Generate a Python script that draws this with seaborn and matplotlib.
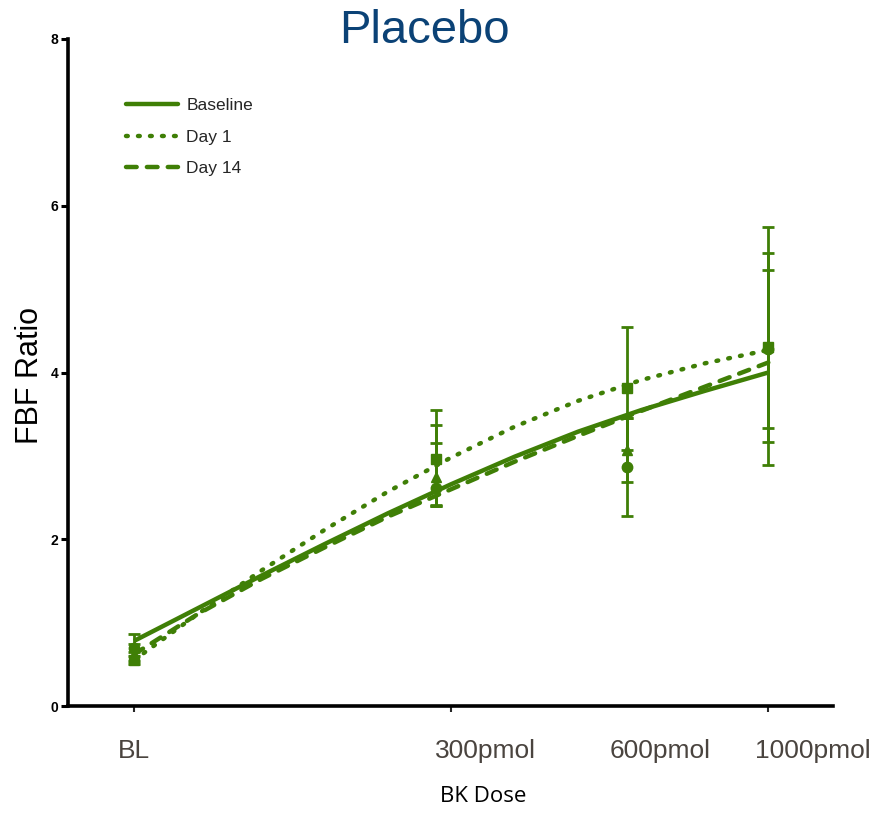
import matplotlib
matplotlib.use("Agg")
import matplotlib.pyplot as plt
import seaborn as sns
import pandas as pd
from matplotlib.lines import Line2D

# ---- data ----
dose_labels = ["BL", "300pmol", "600pmol", "1000pmol"]
dose_x = [0, 476, 778, 1000]

baseline_mean = [0.70, 2.61, 2.87, 4.28]
baseline_err_lo = [0.10, 0.20, 0.59, 0.95]
baseline_err_hi = [0.16, 0.54, 0.59, 0.95]

day1_mean = [0.55, 2.96, 3.81, 4.30]
day1_err_lo = [0.05, 0.56, 0.74, 1.13]
day1_err_hi = [0.10, 0.59, 0.74, 1.13]

day14_mean = [0.62, 2.75, 3.07, 4.31]
day14_err_lo = [0.08, 0.35, 0.38, 1.42]
day14_err_hi = [0.12, 0.62, 0.38, 1.43]

# fitted curves
curve_x = [0, 100, 200, 300, 400, 500, 600, 700, 800, 900, 1000]
baseline_curve = [0.78, 1.17, 1.56, 1.94, 2.31, 2.66, 2.99, 3.29, 3.55, 3.78, 4.00]
day1_curve = [0.55, 1.10, 1.62, 2.11, 2.57, 2.98, 3.35, 3.66, 3.91, 4.11, 4.27]
day14_curve = [0.62, 1.10, 1.52, 1.90, 2.27, 2.60, 2.93, 3.24, 3.54, 3.83, 4.12]

series = ["Baseline", "Day 1", "Day 14"]

# ---- style ----
sns.set_theme(style="ticks")
sans = ["Liberation Sans", "DejaVu Sans"]
plt.rcParams["font.family"] = sans

green = "#3f7f06"
LW = 3.2
dot_style = (0, (0.4, 2.3))
dash_style = (0, (2.4, 2.3))

fig = plt.figure(figsize=(8.78, 8.14), dpi=100)
ax = fig.add_axes([68 / 878, 1 - 706 / 814, (833 - 68) / 878, (706 - 39) / 814])

curves = pd.DataFrame({
    "x": curve_x * 3,
    "y": baseline_curve + day1_curve + day14_curve,
    "series": [s for s in series for _ in curve_x],
})
styles = {"Baseline": "-", "Day 1": dot_style, "Day 14": dash_style}
for name, ls in styles.items():
    sub = curves[curves["series"] == name]
    sns.lineplot(data=sub, x="x", y="y", ax=ax, color=green, lw=LW,
                 linestyle=ls, dash_capstyle="round", solid_capstyle="butt",
                 legend=False)

markers = {"Baseline": "o", "Day 1": "s", "Day 14": "^"}
groups = {
    "Baseline": (baseline_mean, baseline_err_lo, baseline_err_hi),
    "Day 1": (day1_mean, day1_err_lo, day1_err_hi),
    "Day 14": (day14_mean, day14_err_lo, day14_err_hi),
}
for name, (m, lo, hi) in groups.items():
    ax.errorbar(dose_x, m, yerr=[lo, hi], fmt=markers[name], color=green,
                ms=7.5, elinewidth=2, capsize=4, capthick=2, zorder=3)

ax.set_xlim(-104, 1102)
ax.set_ylim(0, 8)
ax.set_yticks([0, 2, 4, 6, 8])
ax.set_xticks([0, 500, 1000])
ax.set_xticklabels([])
for lab in ax.get_yticklabels():
    lab.set_fontweight("bold")
    lab.set_fontsize(10)
ax.tick_params(axis="y", length=5, width=2.2, pad=2, colors="black")
ax.tick_params(axis="x", length=4, width=1.5, direction="out")
for sp in ["left", "bottom"]:
    ax.spines[sp].set_linewidth(2.6)
    ax.spines[sp].set_color("black")
sns.despine(ax=ax)
ax.set_xlabel("")
ax.set_ylabel("")

# dose labels below axis
label_px = [134, 485, 660, 813]
for lab, px in zip(dose_labels, label_px):
    fig.text(px / 878, 1 - 751 / 814, lab, ha="center", va="center",
             fontsize=19, color="#4a443f")

fig.text(483 / 878, 1 - 797 / 814, "BK Dose", ha="center", va="center",
         fontsize=16, color="black", family=["Open Sans", "DejaVu Sans"])
fig.text(30 / 878, 1 - 375 / 814, "FBF Ratio", rotation=90, ha="center",
         va="center", fontsize=22, color="black")
fig.text(424 / 878, 1 - 31 / 814, "Placebo", ha="center", va="center",
         fontsize=34, color="#0b4276")

handles = [
    Line2D([], [], color=green, lw=LW, linestyle="-"),
    Line2D([], [], color=green, lw=LW, linestyle=dot_style, dash_capstyle="round"),
    Line2D([], [], color=green, lw=LW, linestyle=dash_style, dash_capstyle="round"),
]
ax.legend(handles, series, loc="upper left", bbox_to_anchor=(0.055, 0.935),
          frameon=False, handlelength=3.0, handletextpad=0.5, labelspacing=0.95,
          prop={"size": 12.5})

fig.savefig("out.png", dpi=100)
